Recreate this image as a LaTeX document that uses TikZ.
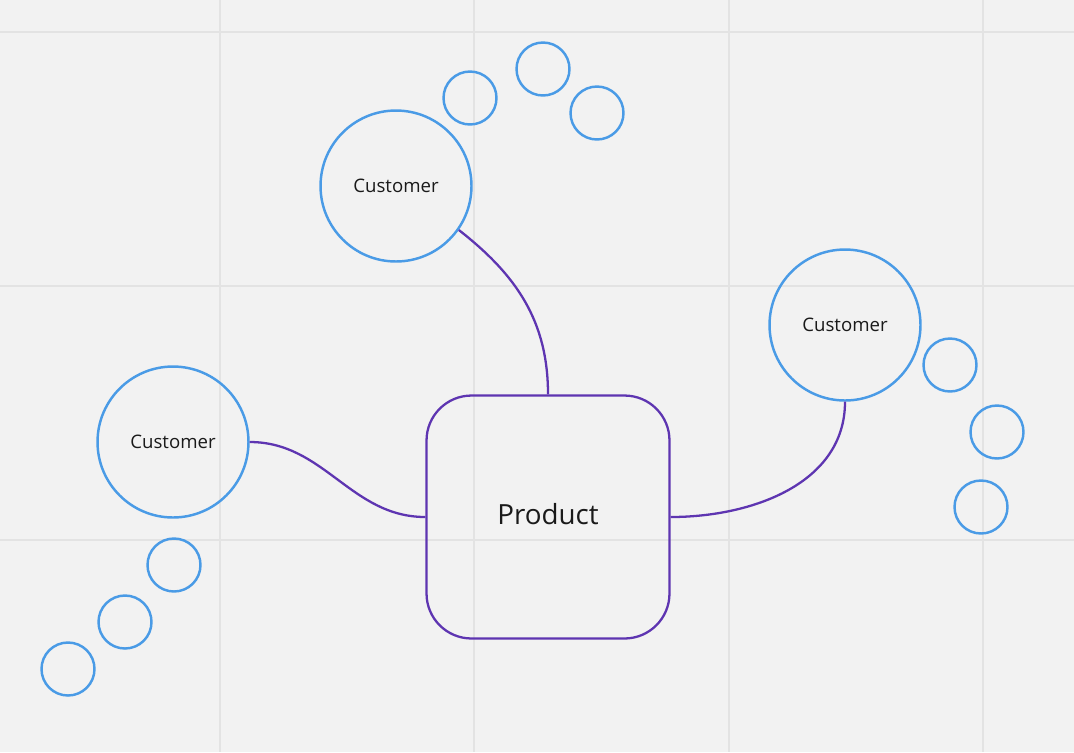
\documentclass[tikz,border=0pt]{standalone}
\usepackage{fontspec}
\setmainfont{Open Sans}
\usetikzlibrary{calc}
\definecolor{bgcol}{HTML}{F2F2F2}
\definecolor{gridcol}{HTML}{E3E3E3}
\definecolor{custblue}{HTML}{4A9BE6}
\definecolor{prodpurple}{HTML}{5E35B1}
\definecolor{textcol}{HTML}{1A1A1A}
\begin{document}
\begin{tikzpicture}[
        x=0.02cm, y=-0.02cm,
        customer/.style={draw=custblue, circle, line width=1.4pt, minimum size=3.02cm, inner sep=0pt, text=textcol, font=\fontsize{10.6}{12}\selectfont},
        bubble/.style={draw=custblue, circle, line width=1.4pt, minimum size=1.06cm, inner sep=0pt},
        product/.style={draw=prodpurple, rounded corners=0.9cm, line width=1.3pt, minimum width=4.86cm, minimum height=4.86cm, inner sep=0pt, text=textcol, font=\fontsize{15.8}{18}\selectfont},
        link/.style={draw=prodpurple, line width=1.3pt}
    ]
    \fill[bgcol] (0,0) rectangle (1074,752);
    \useasboundingbox (0,0) rectangle (1074,752);
    \foreach \gx in {220,474,729,983} \draw[gridcol, line width=1pt] (\gx,0) -- (\gx,752);
    \foreach \gy in {32,286,540} \draw[gridcol, line width=1pt] (0,\gy) -- (1074,\gy);
    \node[product] (prod) at (548,517) {};
    \node[text=textcol, font=\fontsize{15.8}{18}\selectfont] (prodlabel) at (548,514) {Product};
    \node[customer] (ctop) at (396,186) {Customer};
    \node[customer] (cright) at (845,325) {Customer};
    \node[customer] (cleft) at (173,442) {Customer};
    \node[bubble] (t1) at (470,98) {};
    \node[bubble] (t2) at (543,69) {};
    \node[bubble] (t3) at (597,113) {};
    \node[bubble] (r1) at (950,365) {};
    \node[bubble] (r2) at (997,432) {};
    \node[bubble] (r3) at (981,507) {};
    \node[bubble] (l1) at (174,565) {};
    \node[bubble] (l2) at (125,622) {};
    \node[bubble] (l3) at (68,669) {};
    \draw[link] (ctop.-35) to[out=-38, in=90] (prod.north);
    \draw[link] (cleft.east) to[out=0, in=180] (prod.west);
    \draw[link] (prod.east) to[out=0, in=-90] (cright.south);
\end{tikzpicture}
\end{document}
